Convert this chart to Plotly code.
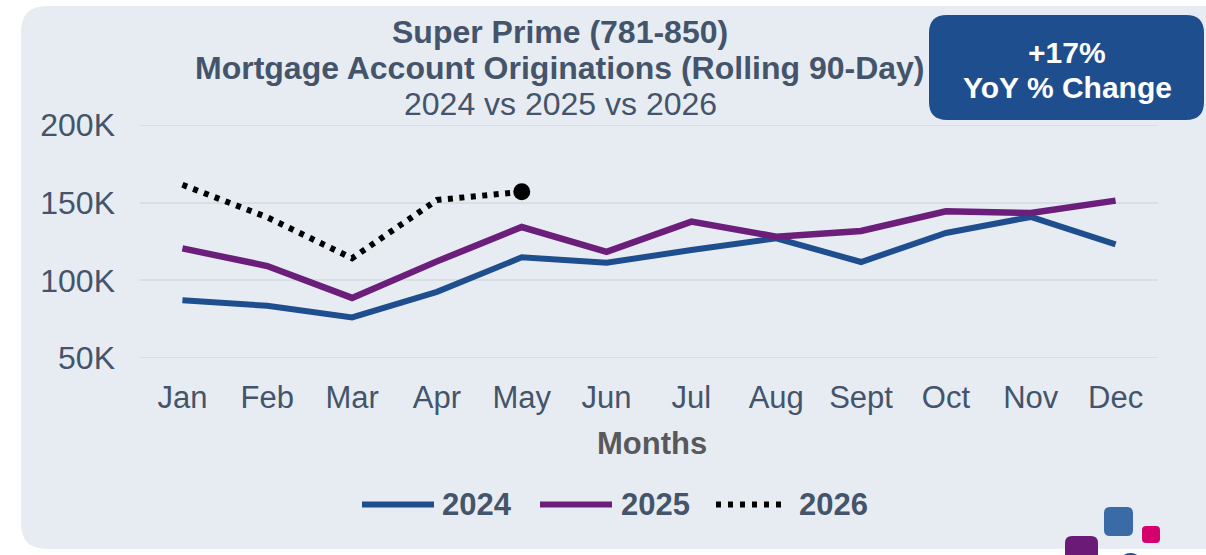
import plotly.graph_objects as go

# ---- data -------------------------------------------------------------
months = ["Jan", "Feb", "Mar", "Apr", "May", "Jun",
          "Jul", "Aug", "Sept", "Oct", "Nov", "Dec"]
orig_2024 = [87200, 83600, 76100, 92600, 114800, 111300,
             119500, 127100, 111800, 130500, 140800, 123200]
orig_2025 = [120600, 109200, 88700, 112200, 134300, 118400,
             137800, 128100, 131800, 144500, 143300, 151300]
orig_2026 = [161500, 140600, 114200, 151700, 157000]
y_tick_vals = [50000, 100000, 150000, 200000]
y_tick_text = ["50K", "100K", "150K", "200K"]
yoy_label = "+17%"

# ---- page geometry (pixels) -------------------------------------------
W, H = 1206, 555
L, R, T, B = 140, 48, 125, 197
PW, PH = W - L - R, H - T - B

FONT = "Liberation Sans, Arial, sans-serif"
TEXT = "#44546A"
BLUE = "#1F4E8F"
PURPLE = "#6B1F7B"
PANEL = "#E7ECF3"
GRID = "#D9DEE5"


def px(x):
    return (x - L) / PW


def py(y):
    return (H - B - y) / PH


def rounded_rect(x0, y0, x1, y1, r):
    pts = [
        ("M", x0 + r, y0), ("L", x1 - r, y0), ("Q", x1, y0, x1, y0 + r),
        ("L", x1, y1 - r), ("Q", x1, y1, x1 - r, y1),
        ("L", x0 + r, y1), ("Q", x0, y1, x0, y1 - r),
        ("L", x0, y0 + r), ("Q", x0, y0, x0 + r, y0),
    ]
    out = []
    for p in pts:
        cmd, coords = p[0], p[1:]
        xy = []
        for i in range(0, len(coords), 2):
            xy.append(f"{px(coords[i]):.5f},{py(coords[i + 1]):.5f}")
        out.append(cmd + " " + " ".join(xy))
    return " ".join(out) + " Z"


fig = go.Figure()

fig.add_trace(go.Scatter(
    x=months, y=orig_2024, mode="lines", name="2024",
    line=dict(color=BLUE, width=6), showlegend=False))
fig.add_trace(go.Scatter(
    x=months, y=orig_2025, mode="lines", name="2025",
    line=dict(color=PURPLE, width=6.5), showlegend=False))
fig.add_trace(go.Scatter(
    x=months[:len(orig_2026)], y=orig_2026, mode="lines", name="2026",
    line=dict(color="black", width=6, dash="5px,6.5px"),
    showlegend=False))
# end-point marker on the current year
fig.add_trace(go.Scatter(
    x=[months[len(orig_2026) - 1]], y=[orig_2026[-1]], mode="markers",
    marker=dict(color="black", size=17, line=dict(width=0)),
    showlegend=False))

shapes = []
# background panel
shapes.append(dict(type="path", xref="paper", yref="paper", layer="below",
                   path=rounded_rect(21, 6, 1232, 549, 26),
                   fillcolor=PANEL, line=dict(width=0)))
# gridlines at the axis limits
for v in (y_tick_vals[0], y_tick_vals[-1]):
    shapes.append(dict(type="line", xref="paper", yref="y", layer="below",
                       x0=0, x1=1, y0=v, y1=v,
                       line=dict(color=GRID, width=2)))
# YoY badge
shapes.append(dict(type="path", xref="paper", yref="paper", layer="above",
                   path=rounded_rect(929, 15, 1204, 120, 18),
                   fillcolor=BLUE, line=dict(width=0)))
# logo squares
shapes.append(dict(type="path", xref="paper", yref="paper", layer="above",
                   path=rounded_rect(1104, 507, 1133, 536, 6),
                   fillcolor="#3A6BA6", line=dict(width=0)))
shapes.append(dict(type="path", xref="paper", yref="paper", layer="above",
                   path=rounded_rect(1142, 526, 1160, 543, 4),
                   fillcolor="#D5006E", line=dict(width=0)))
shapes.append(dict(type="path", xref="paper", yref="paper", layer="above",
                   path=rounded_rect(1065, 536, 1098, 575, 7),
                   fillcolor="#6B1A78", line=dict(width=0)))
shapes.append(dict(type="circle", xref="paper", yref="paper", layer="above",
                   x0=px(1118), x1=px(1143), y0=py(553), y1=py(578),
                   fillcolor=BLUE, line=dict(width=0)))

# legend samples
LEG_Y = 504.5
legend_items = [
    (362, 434, BLUE, "solid", 440, "2024"),
    (540, 612, PURPLE, "solid", 619, "2025"),
    (716, 786, "black", "5px,7px", 797, "2026"),
]
annotations = []
for x0, x1, col, dash, tx, label in legend_items:
    shapes.append(dict(type="line", xref="paper", yref="paper", layer="above",
                       x0=px(x0), x1=px(x1), y0=py(LEG_Y), y1=py(LEG_Y),
                       line=dict(color=col, width=6, dash=dash)))
    annotations.append(dict(xref="paper", yref="paper", x=px(tx), y=py(LEG_Y),
                            xanchor="left", yanchor="middle", showarrow=False,
                            text=f"<b>{label}</b>",
                            font=dict(family=FONT, size=31, color=TEXT)))

# titles
title_lines = [
    ("<b>Super Prime (781-850)</b>", 32),
    ("<b>Mortgage Account Originations (Rolling 90-Day)</b>", 68),
    ("2024 vs 2025 vs 2026", 104),
]
for txt, yy in title_lines:
    annotations.append(dict(xref="paper", yref="paper", x=px(560), y=py(yy),
                            xanchor="center", yanchor="middle", showarrow=False,
                            text=txt, font=dict(family=FONT, size=32, color=TEXT)))

# badge text
annotations.append(dict(xref="paper", yref="paper", x=px(1067), y=py(52),
                        xanchor="center", yanchor="middle", showarrow=False,
                        text=f"<b>{yoy_label}</b>",
                        font=dict(family=FONT, size=30, color="white")))
annotations.append(dict(xref="paper", yref="paper", x=px(1067), y=py(88),
                        xanchor="center", yanchor="middle", showarrow=False,
                        text="<b>YoY % Change</b>",
                        font=dict(family=FONT, size=30, color="white")))

# x axis title
annotations.append(dict(xref="paper", yref="paper", x=px(652), y=py(443),
                        xanchor="center", yanchor="middle", showarrow=False,
                        text="<b>Months</b>",
                        font=dict(family=FONT, size=31, color="#595959")))

fig.update_layout(
    width=W, height=H,
    margin=dict(l=L, r=R, t=T, b=B, pad=0),
    paper_bgcolor="white",
    plot_bgcolor="rgba(0,0,0,0)",
    font=dict(family=FONT, color=TEXT),
    shapes=shapes,
    annotations=annotations,
    showlegend=False,
    xaxis=dict(type="category", categoryorder="array", categoryarray=months,
               range=[-0.5, 11.5], showgrid=False, zeroline=False,
               showline=False, ticks="",
               tickfont=dict(family=FONT, size=31, color=TEXT),
               ticklabelstandoff=18, fixedrange=True),
    yaxis=dict(range=[50000, 200000], tickvals=y_tick_vals,
               ticktext=y_tick_text, showgrid=True, gridcolor=GRID,
               gridwidth=2, zeroline=False, showline=False, ticks="",
               tickfont=dict(family=FONT, size=32, color=TEXT),
               ticklabelstandoff=24, fixedrange=True),
)

fig.write_html("out.html", config={"displayModeBar": False})
